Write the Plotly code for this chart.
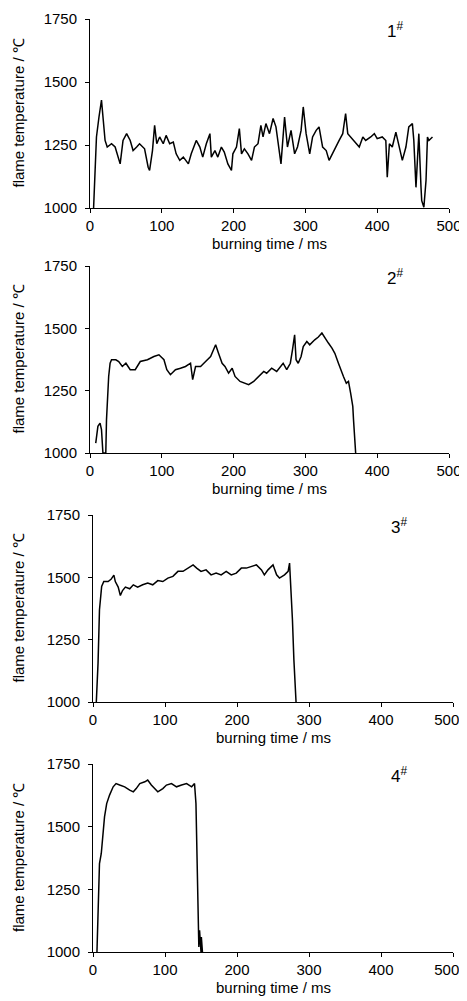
import plotly.graph_objects as go

# sample 1#
t1 = [5, 7, 9, 12.5, 16, 18.5, 21, 24, 30, 35, 39, 42, 46, 51, 56, 60, 65, 69, 76, 81,
      83, 87, 90, 93, 97, 102, 106, 111, 116, 120, 125, 130, 137, 141, 148, 153, 157, 162, 167, 169,
      174, 178, 183, 187, 192, 197, 199, 204, 208, 211, 215, 220, 225, 229, 234, 238, 241, 245, 250, 255,
      259, 264, 266, 271, 275, 280, 285, 289, 294, 297, 301, 306, 310, 315, 319, 324, 329, 333, 338, 343,
      347, 352, 356, 359, 363, 368, 375, 380, 384, 391, 396, 400, 407, 412, 414, 417, 421, 426, 431, 435,
      440, 444, 449, 451, 454, 456, 458, 461, 462, 465, 468, 470, 472, 477]
temp1 = [1000, 1135, 1282, 1361, 1428, 1348, 1268, 1242, 1255, 1242, 1208, 1175, 1268, 1295, 1268, 1228, 1242, 1255, 1235, 1162,
         1149, 1228, 1328, 1255, 1282, 1255, 1288, 1255, 1262, 1215, 1189, 1202, 1175, 1215, 1268, 1242, 1202, 1255, 1295, 1202,
         1228, 1202, 1242, 1222, 1175, 1149, 1215, 1242, 1315, 1215, 1235, 1215, 1189, 1242, 1255, 1328, 1282, 1335, 1295, 1355,
         1322, 1202, 1175, 1361, 1242, 1308, 1215, 1242, 1308, 1401, 1295, 1215, 1282, 1308, 1322, 1242, 1228, 1189, 1215, 1242,
         1268, 1295, 1375, 1295, 1282, 1268, 1242, 1282, 1268, 1282, 1295, 1275, 1282, 1268, 1122, 1255, 1242, 1301, 1242, 1189,
         1242, 1322, 1335, 1268, 1082, 1189, 1295, 1082, 1029, 1003, 1109, 1282, 1268, 1282]

# sample 2#
t2 = [8, 11, 14, 16, 18, 22, 23, 25, 26, 28, 30, 36, 40, 45, 50, 56, 63, 70, 80, 89,
      96, 103, 107, 112, 119, 126, 133, 140, 143, 147, 154, 161, 168, 172, 175, 179, 184, 188, 193, 198,
      202, 209, 216, 221, 228, 235, 242, 246, 253, 260, 265, 269, 274, 279, 282, 285, 287, 290, 294, 297,
      302, 306, 313, 318, 323, 327, 332, 337, 341, 346, 348, 353, 357, 360, 363, 366, 367, 369, 370]
temp2 = [1040, 1107, 1120, 1094, 1000, 1000, 1134, 1254, 1307, 1360, 1374, 1374, 1367, 1347, 1360, 1334, 1334, 1367, 1374, 1387,
         1394, 1374, 1334, 1314, 1334, 1340, 1347, 1360, 1294, 1347, 1347, 1367, 1387, 1414, 1434, 1400, 1360, 1347, 1320, 1340,
         1307, 1287, 1280, 1274, 1287, 1307, 1327, 1320, 1340, 1327, 1347, 1360, 1334, 1360, 1414, 1474, 1374, 1360, 1387, 1427,
         1447, 1434, 1454, 1465, 1481, 1461, 1441, 1421, 1400, 1360, 1347, 1307, 1280, 1287, 1240, 1187, 1134, 1067, 1000]

# sample 3#
t3 = [4.6, 7, 9, 12, 15, 21, 25, 29, 31, 35, 38, 41, 45, 51, 56, 62, 69, 76, 83, 90,
      97, 104, 111, 118, 125, 132, 139, 144, 150, 157, 164, 171, 178, 185, 192, 199, 206, 213, 220, 227,
      234, 238, 243, 250, 255, 259, 266, 271, 273, 275, 277, 279, 281, 282]
temp3 = [1000, 1156, 1370, 1463, 1483, 1483, 1492, 1509, 1483, 1461, 1427, 1447, 1461, 1454, 1470, 1461, 1470, 1477, 1470, 1487,
         1483, 1497, 1504, 1524, 1524, 1537, 1550, 1537, 1524, 1530, 1510, 1517, 1510, 1524, 1510, 1517, 1537, 1537, 1544, 1550,
         1530, 1510, 1530, 1550, 1510, 1497, 1510, 1524, 1557, 1463, 1330, 1170, 1010, 1000]

# sample 4#
t4 = [5.5, 7.5, 9, 11.5, 14, 16, 19, 23, 28, 32, 37, 44, 51, 56, 60, 65, 72, 76, 81, 86,
      90, 97, 102, 109, 116, 123, 130, 137, 141, 143, 144, 145, 147, 148, 150, 150.5, 152]
temp4 = [1000, 1246, 1353, 1393, 1473, 1539, 1592, 1626, 1659, 1672, 1666, 1659, 1646, 1639, 1652, 1672, 1679, 1686, 1666, 1652,
         1639, 1652, 1666, 1672, 1659, 1666, 1672, 1659, 1672, 1592, 1406, 1206, 1020, 1087, 1000, 1060, 1000]

labels = ['1<sup>#</sup>', '2<sup>#</sup>', '3<sup>#</sup>', '4<sup>#</sup>']
series = [(t1, temp1), (t2, temp2), (t3, temp3), (t4, temp4)]
x_ticks = [0, 100, 200, 300, 400, 500]
y_ticks = [1000, 1250, 1500, 1750]

# page has an 8px body margin, so the figure itself is shifted by 8px
OFF = 8
W, H = 467 - OFF, 1001 - OFF
FONT = 'Liberation Sans, Arial, sans-serif'

# pixel boxes of each panel in page coords: (left, right, top, bottom)
boxes = [(90, 449, 19, 208), (90, 449, 266, 453), (93, 453, 515, 702), (93, 453, 764, 952)]

fig = go.Figure()

for i, ((t, temp), lab, box) in enumerate(zip(series, labels, boxes)):
    l, r, top, bot = [v - OFF for v in box]
    n = '' if i == 0 else str(i + 1)
    fig.add_trace(go.Scatter(x=t, y=temp, mode='lines',
                             line=dict(color='black', width=1.5),
                             xaxis='x' + n, yaxis='y' + n, showlegend=False))
    # nudge the last label left a little on the wider panels so it stays on screen
    xt = [str(v) for v in x_ticks]
    if i >= 2:
        xt[-1] = xt[-1] + '\u00a0' * 3
    axis_common = dict(showline=True, linecolor='black', linewidth=1,
                       ticks='outside', ticklen=4, tickcolor='black',
                       showgrid=False, zeroline=False, automargin=False,
                       ticklabeloverflow='allow',
                       tickfont=dict(family=FONT, size=15, color='black'))
    fig.update_layout({
        'xaxis' + n: dict(axis_common, domain=[l / W, r / W], anchor='y' + n,
                          range=[0, 500], tickvals=x_ticks, ticktext=xt),
        'yaxis' + n: dict(axis_common, domain=[1 - bot / H, 1 - top / H], anchor='x' + n,
                          range=[1000, 1750], tickvals=y_ticks,
                          ticklabelstandoff=5),
    })
    # axis titles
    fig.add_annotation(x=(l + r) / 2 / W, y=1 - (bot + 35) / H, xref='paper', yref='paper',
                       text='burning time / ms', showarrow=False, yanchor='middle',
                       font=dict(family=FONT, size=15, color='black'))
    fig.add_annotation(x=(18 - OFF) / W, y=1 - (top + bot) / 2 / H, xref='paper', yref='paper',
                       text='flame temperature / ℃', showarrow=False, textangle=-90,
                       xanchor='center', yanchor='middle',
                       font=dict(family=FONT, size=15, color='black'))
    fig.add_annotation(x=425, y=1706, xref='x' + n, yref='y' + n, text=lab,
                       showarrow=False, font=dict(family=FONT, size=17, color='black'))

fig.update_layout(width=W, height=H, margin=dict(l=0, r=0, t=0, b=0),
                  plot_bgcolor='white', paper_bgcolor='white')

fig.write_html("out.html")
